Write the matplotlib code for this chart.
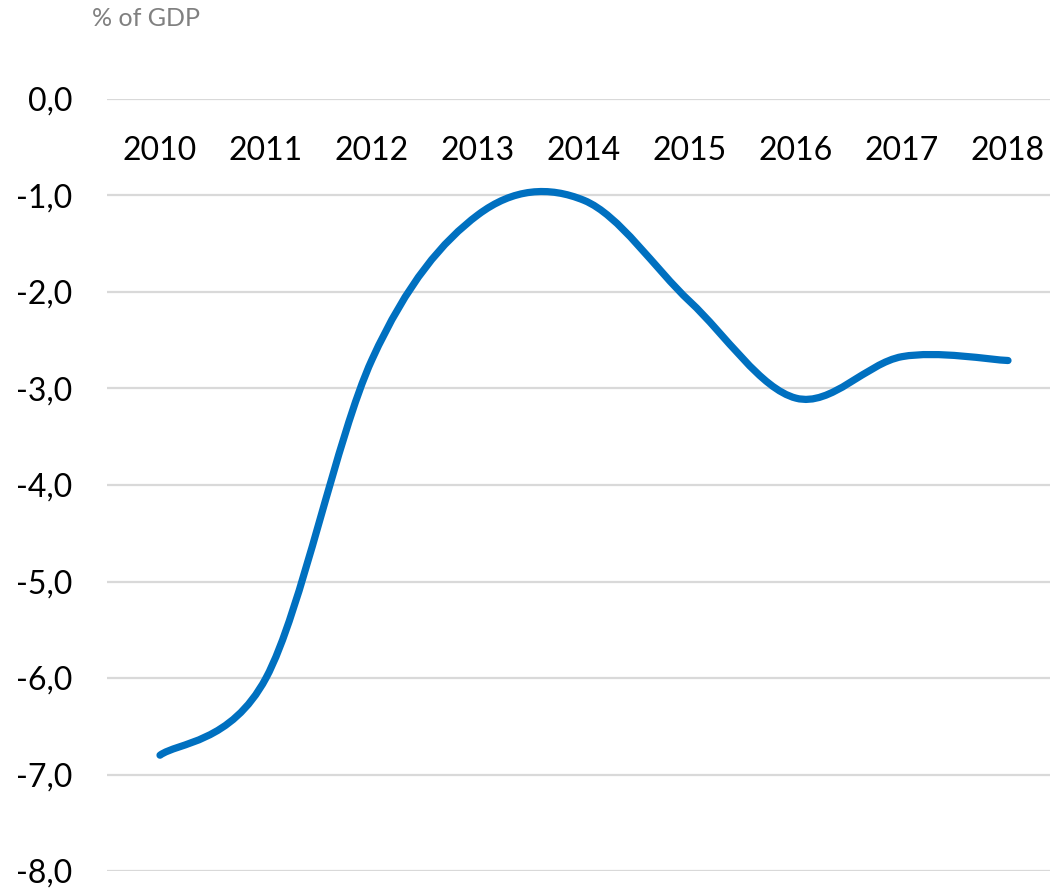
import matplotlib
matplotlib.use('Agg')
import matplotlib.pyplot as plt
from matplotlib.path import Path
from matplotlib.patches import PathPatch
import numpy as np

plt.rcParams['font.family'] = ['Lato', 'DejaVu Sans']

# Data (% of GDP)
years = ['2010', '2011', '2012', '2013', '2014', '2015', '2016', '2017', '2018']
values = [-6.8, -6.0, -2.7, -1.2, -1.05, -2.1, -3.1, -2.67, -2.71]
yticks = [0, -1, -2, -3, -4, -5, -6, -7, -8]

LINE_COLOR = '#0070C0'
GRID_COLOR = '#D9D9D9'

fig = plt.figure(figsize=(10.5, 8.88), dpi=100)
ax = fig.add_axes([107/1050, 1 - 871/888, (1061 - 107)/1050, 772/888])

# smooth line like Excel's "smoothed line": cubic bezier through the points
x = np.arange(len(years), dtype=float)
y = np.array(values)
pts = np.column_stack([x, y])
ext = np.vstack([pts[0], pts, pts[-1]])
verts = [tuple(pts[0])]
codes = [Path.MOVETO]
for i in range(len(pts) - 1):
    p0, p1, p2, p3 = ext[i], ext[i + 1], ext[i + 2], ext[i + 3]
    c1 = p1 + (p2 - p0) / 6
    c2 = p2 - (p3 - p1) / 6
    verts += [tuple(c1), tuple(c2), tuple(p2)]
    codes += [Path.CURVE4] * 3
ax.add_patch(PathPatch(Path(verts, codes), facecolor='none', edgecolor=LINE_COLOR,
                       lw=5.2, capstyle='round', joinstyle='round', zorder=3))

ax.set_xlim(-0.5, len(years) - 0.5)
ax.set_ylim(-8, 0)
ax.set_yticks(yticks)
ax.set_yticklabels([f'{v:.1f}'.replace('.', ',') for v in yticks])
ax.grid(axis='y', color=GRID_COLOR, lw=1.6)
ax.set_axisbelow(True)

ax.xaxis.tick_top()
ax.set_xticks(x)
ax.set_xticklabels(years)
ax.tick_params(axis='x', length=0, pad=-48, labelsize=23)
ax.tick_params(axis='y', length=0, pad=25, labelsize=23)
for s in ax.spines.values():
    s.set_visible(False)

fig.text(92/1050, 1 - 18/888, '% of GDP', color='#808080', fontsize=18, va='center', ha='left')

fig.savefig('out.png', dpi=100)
